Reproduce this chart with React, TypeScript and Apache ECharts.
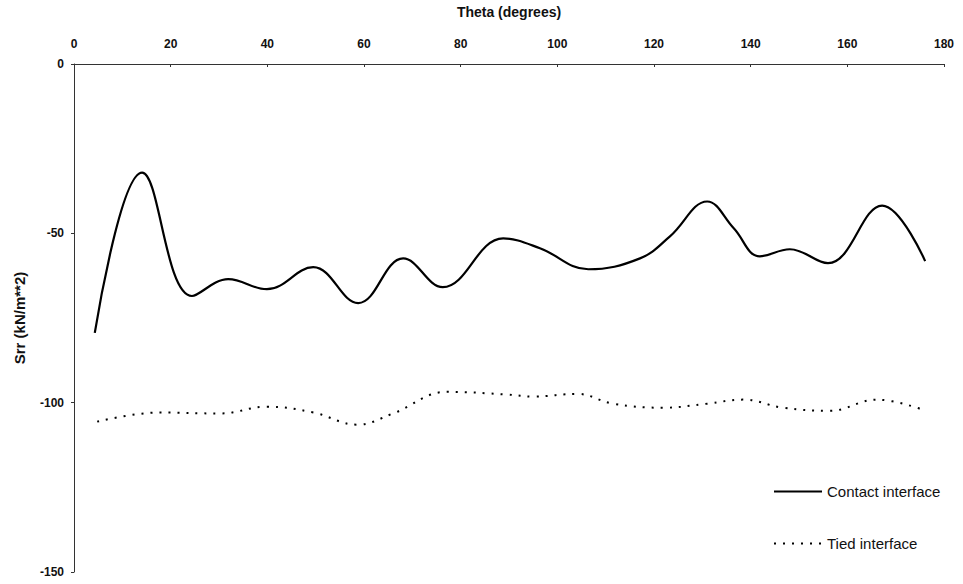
import React, { useEffect, useRef } from "react";
import * as echarts from "echarts";

const xTicks = [0, 20, 40, 60, 80, 100, 120, 140, 160, 180];
const yTicks = [0, -50, -100, -150];

const contactTheta = [4.3, 14.1, 24.4, 31.9, 39.9, 49.5, 58.8, 68.1, 76.3, 88.8, 96.4, 106.4, 117.1, 123.3, 131.0, 136.5, 141.9, 148.1, 156.0, 167.2, 176.1];
const contactSrr = [-79.4, -32.1, -68.5, -63.5, -66.5, -60.0, -70.6, -57.4, -65.9, -51.5, -54.4, -60.6, -57.4, -50.9, -40.6, -48.5, -56.8, -54.7, -58.8, -41.8, -58.2];

const tiedTheta = [4.8, 17.8, 30.2, 39.9, 49.5, 58.6, 66.0, 77.2, 89.6, 95.0, 104.1, 111.5, 121.9, 131.0, 138.4, 146.7, 156.4, 166.1, 175.0];
const tiedSrr = [-105.6, -102.9, -103.2, -101.2, -102.9, -106.5, -103.2, -96.8, -97.6, -98.2, -97.4, -100.3, -101.5, -100.3, -99.1, -101.5, -102.4, -99.1, -101.8];

const FONT = "'Liberation Sans', Arial, sans-serif";

export default function App() {
  const ref = useRef<HTMLDivElement>(null);
  useEffect(() => {
    if (!ref.current) return;
    const chart = echarts.init(ref.current, undefined, { renderer: "svg" });
    chart.setOption({
      animation: false,
      backgroundColor: "#ffffff",
      textStyle: { fontFamily: FONT, color: "#111" },
      grid: { left: 74, right: 19, top: 62, bottom: 12, containLabel: false },
      legend: {
        orient: "vertical",
        left: 768,
        top: 479,
        itemWidth: 48,
        itemHeight: 14,
        itemGap: 37,
        itemStyle: { opacity: 0 },
        textStyle: { fontFamily: FONT, fontSize: 15, color: "#111" },
        data: ["Contact interface", "Tied interface"],
      },
      xAxis: {
        type: "value",
        position: "top",
        min: xTicks[0],
        max: xTicks[xTicks.length - 1],
        interval: 20,
        name: "Theta (degrees)",
        nameLocation: "middle",
        nameGap: 45,
        nameTextStyle: { fontFamily: FONT, fontSize: 14, fontWeight: "bold", color: "#111" },
        axisLine: { show: true, lineStyle: { color: "#333", width: 1 } },
        axisTick: { show: true, inside: true, length: 3, lineStyle: { color: "#333" } },
        axisLabel: { fontFamily: FONT, fontSize: 12, fontWeight: "bold", color: "#111", margin: 14 },
        splitLine: { show: false },
      },
      yAxis: {
        type: "value",
        min: yTicks[yTicks.length - 1],
        max: yTicks[0],
        interval: 50,
        name: "Srr (kN/m**2)",
        nameLocation: "middle",
        nameGap: 47,
        nameRotate: 90,
        nameTextStyle: { fontFamily: FONT, fontSize: 15, fontWeight: "bold", color: "#111" },
        axisLine: { show: true, lineStyle: { color: "#333", width: 1 } },
        axisTick: { show: true, inside: false, length: 3, lineStyle: { color: "#333" } },
        axisLabel: { fontFamily: FONT, fontSize: 12, fontWeight: "bold", color: "#111", margin: 10 },
        splitLine: { show: false },
      },
      series: [
        {
          name: "Contact interface",
          type: "line",
          smooth: 0.4,
          symbol: "none",
          data: contactTheta.map((t, i) => [t, contactSrr[i]]),
          lineStyle: { color: "#000", width: 2.2, type: "solid" },
          itemStyle: { color: "#000" },
        },
        {
          name: "Tied interface",
          type: "line",
          smooth: 0.4,
          symbol: "none",
          data: tiedTheta.map((t, i) => [t, tiedSrr[i]]),
          lineStyle: { color: "#000", width: 2, type: [2, 7] },
          itemStyle: { color: "#000" },
        },
      ],
    });
    return () => chart.dispose();
  }, []);
  return <div ref={ref} style={{ width: 963, height: 584, position: "absolute", left: 0, top: 0 }} />;
}
